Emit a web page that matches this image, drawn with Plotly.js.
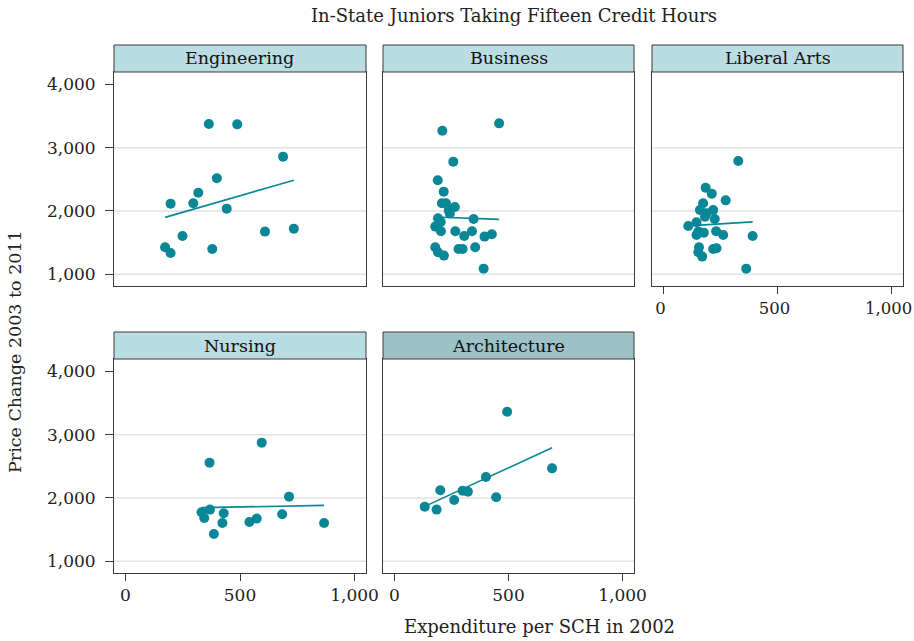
<!DOCTYPE html>
<html><head><meta charset="utf-8">
<script src="https://cdn.plot.ly/plotly-3.0.1.min.js"></script>
<style>html,body{margin:0;padding:0;background:#fff}#chart{width:914px;height:641px}</style>
</head><body><div id="chart"></div>
<script>
// Data
const panels = ["Engineering", "Business", "Liberal Arts", "Nursing", "Architecture"];
const engX = [364,488,688,399,318,197,296,442,249,609,735,173,197,379];
const engY = [3374,3368,2858,2516,2289,2116,2121,2037,1605,1674,1721,1426,1337,1400];
const busX = [459,210,258,190,216,208,226,265,238,243,191,347,203,179,204,267,340,306,395,427,179,191,217,281,299,354,391];
const busY = [3384,3268,2779,2484,2305,2121,2121,2063,2010,1960,1884,1874,1826,1753,1679,1679,1679,1605,1595,1632,1426,1347,1295,1400,1400,1426,1089];
const libX = [328,185,212,273,174,218,160,189,225,145,109,182,153,177,145,231,262,391,156,153,170,218,233,363];
const libY = [2789,2368,2274,2168,2121,2016,2016,1963,1874,1821,1763,1910,1674,1658,1621,1679,1621,1605,1426,1347,1279,1400,1410,1089];
const nurX = [595,367,714,369,332,344,429,423,386,541,573,684,867];
const nurY = [2874,2558,2021,1816,1774,1684,1758,1605,1432,1621,1674,1742,1605];
const arcX = [494,691,401,201,299,322,262,446,133,185];
const arcY = [3363,2468,2332,2121,2116,2100,1968,2011,1863,1816];
const yTicks = [1000, 2000, 3000, 4000];
const gridVals = [1000, 2000, 3000];
const xTicks = [0, 500, 1000];

const xs = [engX, busX, libX, nurX, arcX];
const ys = [engY, busY, libY, nurY, arcY];

const teal = "#0a8796";
const W = 914, H = 641;
const colL = [114, 383, 652], colR = [366, 634, 903];
const rowTop = [72, 359], rowBot = [286, 573], stripH = 27;
const pos = [[0,0],[1,0],[2,0],[0,1],[1,1]];

function fit(x, y) {
  const n = x.length;
  const mx = x.reduce((a,b)=>a+b,0)/n, my = y.reduce((a,b)=>a+b,0)/n;
  let sxy = 0, sxx = 0;
  for (let i=0;i<n;i++){ sxy += (x[i]-mx)*(y[i]-my); sxx += (x[i]-mx)*(x[i]-mx); }
  const b = sxy/sxx, a = my - b*mx;
  const x0 = Math.min(...x), x1 = Math.max(...x);
  return {x:[x0,x1], y:[a+b*x0, a+b*x1]};
}

const font = "DejaVu Serif";
const traces = [], shapes = [], annotations = [];
const layout = {
  width: W, height: H, margin: {l:0, r:0, t:0, b:0},
  paper_bgcolor: "#fff", plot_bgcolor: "#fff", showlegend: false,
  font: {family: font, size: 17, color: "#222"}
};

panels.forEach((name, i) => {
  const [c, r] = pos[i];
  const k = i === 0 ? "" : String(i+1);
  const xa = "x"+k, ya = "y"+k;
  const bottomOfCol = (i >= 2);
  layout["xaxis"+k] = {
    domain: [colL[c]/W, colR[c]/W], range: [-50, 1050], anchor: ya,
    tickvals: xTicks, tickformat: ",d", showgrid: false, zeroline: false,
    showline: true, mirror: true, linecolor: "#3a3a3a", linewidth: 1,
    ticks: bottomOfCol ? "outside" : "", ticklen: 7, tickcolor: "#3a3a3a",
    ticklabeloverflow: "allow", ticklabelshift: c === 2 ? -3 : 0,
    showticklabels: bottomOfCol, tickfont: {family: font, size: c === 2 ? 16.5 : 17, color: "#222"}
  };
  layout["yaxis"+k] = {
    domain: [1 - rowBot[r]/H, 1 - rowTop[r]/H], range: [815, 4195], anchor: xa,
    tickvals: yTicks, tickformat: ",d", showgrid: false, zeroline: false,
    showline: true, mirror: true, linecolor: "#3a3a3a", linewidth: 1,
    ticks: c === 0 ? "outside" : "", ticklen: 8, tickcolor: "#3a3a3a",
    ticklabelstandoff: 6, ticklabeloverflow: "allow",
    showticklabels: c === 0, tickfont: {family: font, size: 17, color: "#222"}
  };
  gridVals.forEach(g => shapes.push({
    type: "line", xref: xa + " domain", yref: ya, x0: 0, x1: 1, y0: g, y1: g,
    line: {color: "#e2e2e2", width: 1.5}, layer: "below"
  }));
  const f = fit(xs[i], ys[i]);
  traces.push({x: f.x, y: f.y, xaxis: xa, yaxis: ya, mode: "lines",
    line: {color: teal, width: 1.6}, hoverinfo: "skip"});
  traces.push({x: xs[i], y: ys[i], xaxis: xa, yaxis: ya, mode: "markers",
    marker: {color: teal, size: 10, line: {width: 0}}});
  // facet strip
  shapes.push({
    type: "rect", xref: "paper", yref: "paper",
    x0: colL[c]/W, x1: colR[c]/W, y0: 1 - rowTop[r]/H, y1: 1 - (rowTop[r]-stripH)/H,
    fillcolor: name === "Architecture" ? "#9cc2c8" : "#b9dde2",
    line: {color: "#3a3a3a", width: 1}
  });
  annotations.push({
    xref: "paper", yref: "paper", x: (colL[c]+colR[c])/2/W, y: 1 - (rowTop[r]-stripH/2)/H,
    text: name, showarrow: false, xanchor: "center", yanchor: "middle",
    font: {family: font, size: 17.5, color: "#111"}
  });
});

annotations.push({xref:"paper", yref:"paper", x: 514/W, y: 1 - 15/H, text: "In-State Juniors Taking Fifteen Credit Hours",
  showarrow:false, xanchor:"center", yanchor:"middle", font:{family:font, size:18, color:"#222"}});
annotations.push({xref:"paper", yref:"paper", x: 539/W, y: 1 - 626/H, text: "Expenditure per SCH in 2002",
  showarrow:false, xanchor:"center", yanchor:"middle", font:{family:font, size:18, color:"#222"}});
annotations.push({xref:"paper", yref:"paper", x: 15/W, y: 1 - 352/H, text: "Price Change 2003 to 2011",
  showarrow:false, textangle:-90, xanchor:"center", yanchor:"middle", font:{family:font, size:17.5, color:"#222"}});

layout.shapes = shapes;
layout.annotations = annotations;
Plotly.newPlot("chart", traces, layout, {displayModeBar: false, staticPlot: true});
</script></body></html>
